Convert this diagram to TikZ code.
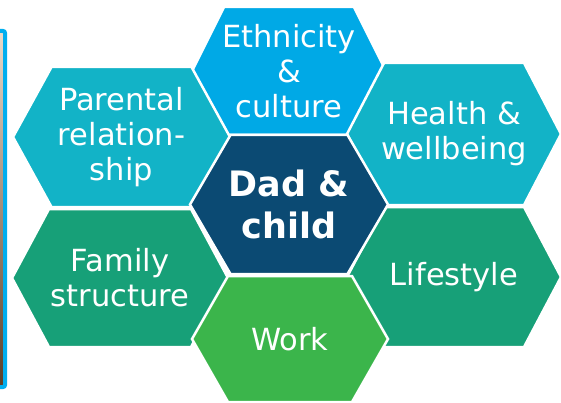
\documentclass[tikz,border=0pt]{standalone}
\usepackage{fontspec}
\setmainfont{DejaVu Sans}
\usetikzlibrary{positioning}

\definecolor{ethnicBlue}{HTML}{00A9E6}
\definecolor{tealHex}{HTML}{12B3C7}
\definecolor{dadBlue}{HTML}{0B4A73}
\definecolor{seaGreen}{HTML}{17A078}
\definecolor{workGreen}{HTML}{3BB54B}
\definecolor{frameBlue}{HTML}{00AEEF}
\definecolor{photoTan}{HTML}{C9A27A}
\definecolor{photoDark}{HTML}{5A3F28}

\tikzset{
  hexText/.style={text=white, align=center,
    font=\fontsize{30.5}{35}\selectfont},
  dadText/.style={text=white, align=center,
    font=\fontsize{35}{42}\selectfont\bfseries}
}

\begin{document}
\begin{tikzpicture}[x=1pt, y=-1pt]

    \useasboundingbox (0,0) rectangle (561,403);

    \newcommand{\drawHex}[8]{
        % #1 = name, #2 = centre x, #3 = centre y
        % #4 = half top edge, #5 = half width, #6 = half height
        % #7 = colour, #8 = label
        \fill[#7, draw=white, line width=2.5pt, line join=miter]
            (#2-#4, #3-#6) -- (#2+#4, #3-#6) -- (#2+#5, #3)
            -- (#2+#4, #3+#6) -- (#2-#4, #3+#6) -- (#2-#5, #3) -- cycle;
        \node [hexText] (#1) at (#2, #3) {#8};
    }

    % photo frame at the left edge
    \shade[top color=photoTan!40!white, bottom color=photoDark]
        (-10,31) rectangle (5,387);
    \draw[frameBlue, line width=4pt, rounded corners=2pt]
        (-10,31) rectangle (5,387);

    \drawHex{ethnicity}{289}{71}{65}{97}{64}{ethnicBlue}{Ethnicity\\\&\\culture}
    \drawHex{parental}{121.5}{137}{70}{108.5}{70}{tealHex}{Parental\\relation-\\ship}
    \drawHex{health}{454}{134}{70}{107}{71}{tealHex}{Health \&\\wellbeing}
    \drawHex{family}{120}{278}{71}{108}{69}{seaGreen}{Family\\structure}
    \drawHex{lifestyle}{454}{277}{70}{107}{70}{seaGreen}{Lifestyle}
    \drawHex{work}{290}{339}{62}{98}{63}{workGreen}{Work}
    \drawHex{centre}{289}{204.5}{58.5}{99}{69.5}{dadBlue}{}

    \node [dadText] (dad) at (centre) {Dad \&\\child};

\end{tikzpicture}
\end{document}
